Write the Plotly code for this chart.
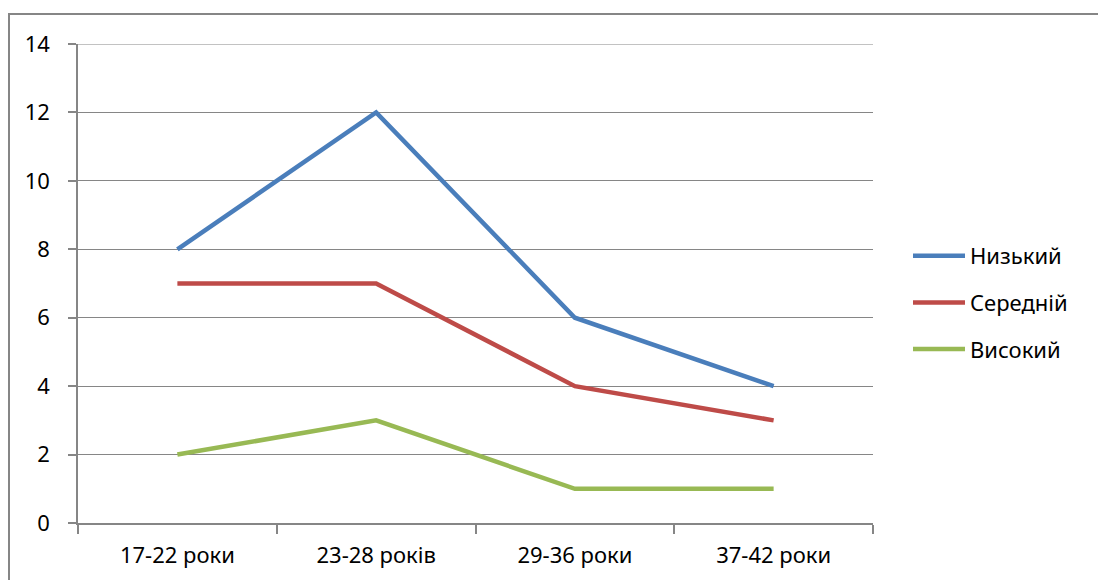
import plotly.graph_objects as go

# Age groups and counts per level
categories = ["17-22 роки", "23-28 років", "29-36 роки", "37-42 роки"]
low = [8, 12, 6, 4]
medium = [7, 7, 4, 3]
high = [2, 3, 1, 1]

series = [
    ("Низький", low, "#4A7EBB"),
    ("Середній", medium, "#BE4B48"),
    ("Високий", high, "#98B954"),
]

AX = "#868686"
FONT = "Noto Sans"
FS = 22

fig = go.Figure()
for i, (name, vals, color) in enumerate(series):
    fig.add_trace(go.Scatter(
        x=categories, y=vals, name=name, mode="lines",
        line=dict(color=color, width=4.5),
        legendgroup=f"g{i}",
    ))

W, H = 1098, 580
L, R, T, B = 78, 225, 44, 57
pw, ph = W - L - R, H - T - B

# Outer chart border
fig.add_shape(
    type="rect", xref="paper", yref="paper",
    x0=(9 - L) / pw, x1=(W + 20 - L) / pw,
    y0=-(B + 20) / ph, y1=(H - B - 14) / ph,
    line=dict(color=AX, width=2), fillcolor="rgba(0,0,0,0)",
    layer="below",
)
# Top gridline at the axis maximum
fig.add_shape(
    type="line", xref="paper", yref="y",
    x0=0, x1=1, y0=14, y1=14,
    line=dict(color=AX, width=1.2), layer="below",
)

fig.update_layout(
    width=W, height=H,
    margin=dict(l=L, r=R, t=T, b=B),
    paper_bgcolor="white", plot_bgcolor="white",
    font=dict(family=FONT, size=FS, color="#000000"),
    showlegend=True,
    legend=dict(
        x=(908 - L) / pw, y=(H - B - 235) / ph, xanchor="left", yanchor="top",
        font=dict(size=FS), tracegroupgap=15, itemwidth=52,
        bgcolor="rgba(0,0,0,0)",
    ),
    xaxis=dict(
        type="category", range=[-0.5, 3.5], tickson="boundaries",
        showline=True, linecolor=AX, linewidth=1.5,
        ticks="outside", ticklen=9, tickcolor=AX, tickwidth=1.5,
        ticklabelstandoff=12,
        showgrid=False, tickfont=dict(size=FS), fixedrange=True,
    ),
    yaxis=dict(
        range=[0, 14], dtick=2, tick0=0,
        showline=True, linecolor=AX, linewidth=1.5,
        ticks="outside", ticklen=8, tickcolor=AX, tickwidth=1.5,
        ticklabelstandoff=14,
        showgrid=True, gridcolor=AX, gridwidth=1.2,
        zeroline=False, tickfont=dict(size=FS), fixedrange=True,
    ),
)

fig.write_html("out.html")
